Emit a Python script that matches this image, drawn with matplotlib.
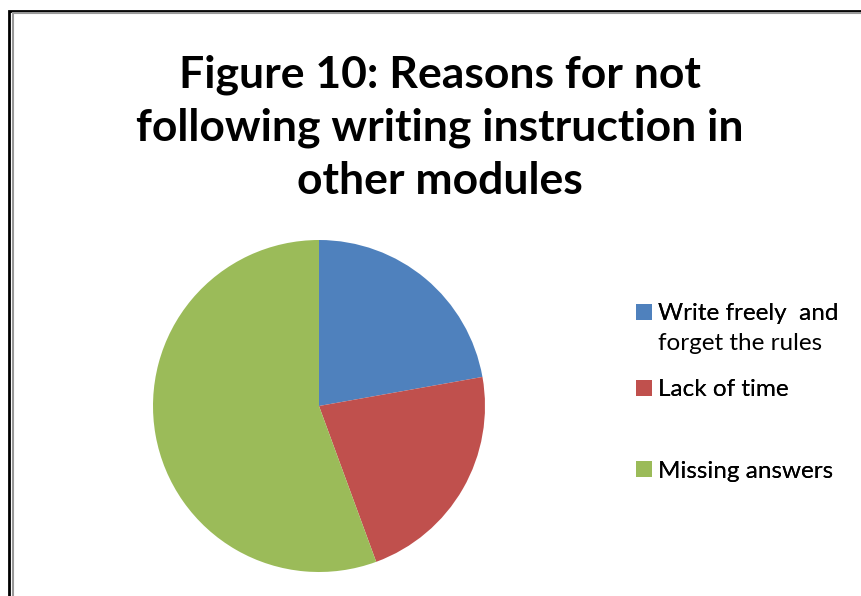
import matplotlib
matplotlib.use('Agg')
import matplotlib.pyplot as plt
from matplotlib.patches import Rectangle

labels = ['Write freely  and\nforget the rules', 'Lack of time', 'Missing answers']
shares = [22.2, 22.2, 55.6]
colors = ['#4F81BD', '#C0504D', '#9BBB59']

plt.rcParams['font.family'] = ['Lato', 'DejaVu Sans']

fig = plt.figure(figsize=(8.61, 5.96), dpi=100)

# double border around the chart area, like the exported office chart
fig.patches.append(Rectangle((9 / 861, -0.1), 2, 1.1 - 11 / 596, transform=fig.transFigure,
                             fill=False, edgecolor='black', linewidth=2))
fig.patches.append(Rectangle((13 / 861, -0.1), 2, 1.1 - 13 / 596, transform=fig.transFigure,
                             fill=False, edgecolor='#999999', linewidth=1.5))

fig.text(440 / 861, 1 - 128 / 596, 'Figure 10: Reasons for not\nfollowing writing instruction in\nother modules',
         ha='center', va='center', fontsize=32, fontweight='bold', linespacing=1.38)

ax = fig.add_axes([(319 - 166) / 861, (596 - 572) / 596, 332 / 861, 332 / 596])
wedges, _ = ax.pie(shares, colors=colors, startangle=90, counterclock=False,
                   wedgeprops=dict(linewidth=0))
ax.set_xlim(-1, 1)
ax.set_ylim(-1, 1)

# one legend entry per slice, spaced like the original
entry_y = [314, 390, 471]
for w, lab, y in zip(wedges, labels, entry_y):
    first, *rest = lab.split('\n')
    leg = fig.legend([w], [first], loc='center left', bbox_to_anchor=(636 / 861, 1 - y / 596),
                     frameon=False, fontsize=17.5, handlelength=0.66, handleheight=0.66,
                     handletextpad=0.25, borderpad=0, borderaxespad=0)
    fig.add_artist(leg)
    for k, line in enumerate(rest, start=1):
        fig.text(658 / 861, 1 - (y + 30 * k) / 596, line, ha='left', va='center', fontsize=17.5)

fig.savefig('out.png', dpi=100)
